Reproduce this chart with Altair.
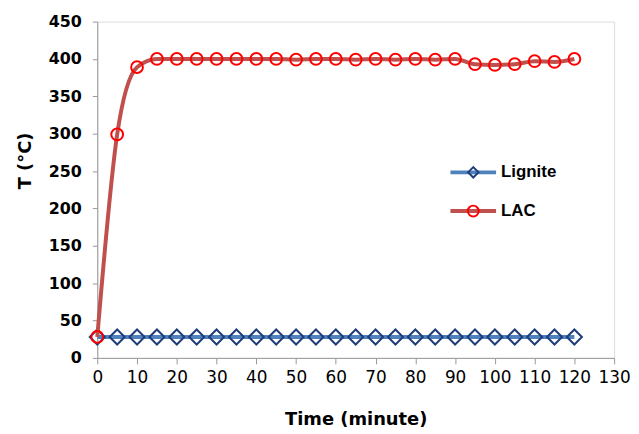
import altair as alt
import pandas as pd

time = [0, 5, 10, 15, 20, 25, 30, 35, 40, 45, 50, 55, 60, 65, 70, 75, 80, 85, 90, 95, 100, 105, 110, 115, 120]
lignite = [28] * 25
lac = [28, 299, 389, 400, 400, 400, 400, 400, 400, 400, 399, 400, 400, 399, 400, 399, 400, 399, 400, 393, 392, 393, 397, 396, 400]

df_l = pd.DataFrame({"t": time, "T": lignite})
df_c = pd.DataFrame({"t": time, "T": lac})

x = alt.X("t:Q", scale=alt.Scale(domain=[0, 130], nice=False),
          axis=alt.Axis(values=list(range(0, 131, 10)), title="Time (minute)", grid=False,
                        labelFontSize=17, labelFont="DejaVu Sans", labelColor="#000",
                        labelOverlap=False, labelFlush=False,
                        titleFontSize=18, titleFont="DejaVu Sans", titleFontWeight="bold",
                        titlePadding=25, labelPadding=6, tickSize=6,
                        domainColor="#999", tickColor="#999"))
y = alt.Y("T:Q", scale=alt.Scale(domain=[0, 450], nice=False),
          axis=alt.Axis(values=list(range(0, 451, 50)), title="T (°C)", grid=False,
                        labelFontSize=16, labelFont="DejaVu Sans", labelColor="#000",
                        labelFontWeight="bold", labelOverlap=False,
                        titleFontSize=18, titleFont="DejaVu Sans", titleFontWeight="bold",
                        titlePadding=14, titleY=140, labelPadding=11, tickSize=5,
                        domainColor="#999", tickColor="#999"))

lig_line = alt.Chart(df_l).mark_line(color="#4F81BD", strokeWidth=4).encode(x=x, y=y)
lig_pts = alt.Chart(df_l).mark_point(shape="diamond", filled=False, color="#1F3D7A",
                                      strokeWidth=2, size=230, opacity=1).encode(x=x, y=y)
lac_line = alt.Chart(df_c).mark_line(color="#C0504D", strokeWidth=4, interpolate="monotone").encode(x=x, y=y)
lac_pts = alt.Chart(df_c).mark_point(shape="circle", filled=False, color="#FF0000",
                                      strokeWidth=2, size=140, opacity=1).encode(x=x, y=y)

# custom legend
lg1 = alt.Chart(pd.DataFrame({"n": ["Lignite"]})).mark_rule(color="#4F81BD", strokeWidth=4).encode(
    x=alt.value(356), x2=alt.value(402), y=alt.value(152))
lg1p = alt.Chart(pd.DataFrame({"n": ["Lignite"]})).mark_point(shape="diamond", filled=False, color="#1F3D7A",
    strokeWidth=2, size=110, opacity=1).encode(x=alt.value(379), y=alt.value(152))
lg1t = alt.Chart(pd.DataFrame({"n": ["Lignite"]})).mark_text(align="left", baseline="middle", fontSize=17,
    font="Liberation Sans", fontWeight="bold").encode(x=alt.value(407), y=alt.value(152), text="n:N")
lg2 = alt.Chart(pd.DataFrame({"n": ["LAC"]})).mark_rule(color="#C0504D", strokeWidth=4).encode(
    x=alt.value(356), x2=alt.value(402), y=alt.value(191))
lg2p = alt.Chart(pd.DataFrame({"n": ["LAC"]})).mark_point(shape="circle", filled=False, color="#FF0000",
    strokeWidth=2, size=120, opacity=1).encode(x=alt.value(379), y=alt.value(191))
lg2t = alt.Chart(pd.DataFrame({"n": ["LAC"]})).mark_text(align="left", baseline="middle", fontSize=17,
    font="Liberation Sans", fontWeight="bold").encode(x=alt.value(407), y=alt.value(191), text="n:N")

chart = alt.layer(lig_line, lig_pts, lac_line, lac_pts, lg1, lg1p, lg1t, lg2, lg2p, lg2t).properties(
    width=521, height=339, padding={"left": 8, "top": 4, "right": 0, "bottom": 0}
).configure_view(stroke=None).configure(background="white")

chart.save("out.html", embed_options={"renderer": "svg", "actions": False})
